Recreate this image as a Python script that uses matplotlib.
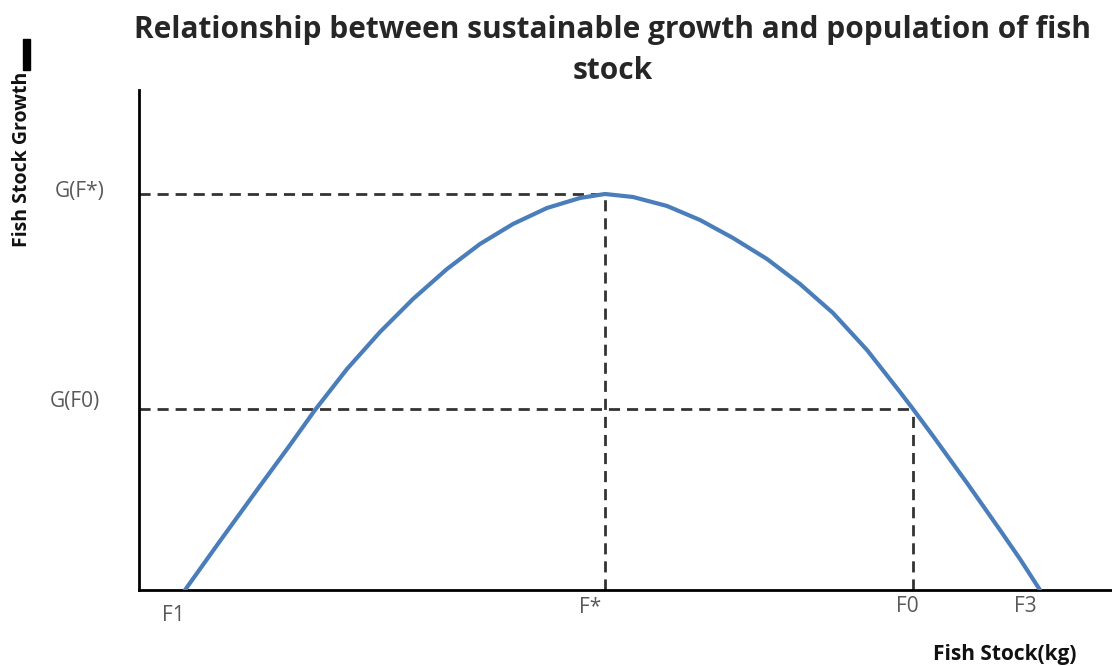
import matplotlib.pyplot as plt
from matplotlib.patches import Rectangle

# values (arbitrary units)
stock = [46, 81, 118, 151, 176, 208, 241, 274, 308, 341, 374, 408, 441, 466,
         494, 528, 561, 594, 628, 661, 694, 728, 761, 774, 794, 828, 861, 881, 901]
growth = [0, 49, 100, 145, 180, 221, 258, 291, 321, 346, 366, 382, 392, 396,
          393, 384, 370, 352, 331, 306, 277, 240, 198, 181, 154, 107, 60, 31, 0]

f_star = 466
f_zero = 774
g_star = 396
g_zero = 181

x_labels = ['F1', 'F*', 'F0', 'F3']
x_label_pos = [34, 451, 768, 886]
x_label_y = [-25, -17, -16, -16]
y_labels = ['G(F*)', 'G(F0)']
y_label_pos = [398, 188]
y_label_x = [-59, -64]

plt.rcParams['font.family'] = ['Open Sans', 'DejaVu Sans']

fig = plt.figure(figsize=(11.12, 6.66), dpi=100)
ax = fig.add_axes([0.125, 0.1141, 0.875, 0.7508])
ax.set_xlim(0, 973)
ax.set_ylim(0, 500)

ax.plot(stock, growth, color='#4a7ebb', lw=3, solid_capstyle='round',
        solid_joinstyle='round', zorder=3)

dash = dict(color='#333333', lw=2, linestyle=(0, (4, 2.5)), zorder=2)
ax.plot([0, f_star], [g_star, g_star], **dash)
ax.plot([f_star, f_star], [0, g_star], **dash)
ax.plot([0, f_zero], [g_zero, g_zero], **dash)
ax.plot([f_zero, f_zero], [0, g_zero], **dash)

for s in ['top', 'right']:
    ax.spines[s].set_visible(False)
ax.spines['left'].set_linewidth(2)
ax.spines['bottom'].set_linewidth(2)
ax.set_xticks([])
ax.set_yticks([])

for lab, xp, yp in zip(x_labels, x_label_pos, x_label_y):
    ax.text(xp, yp, lab, ha='center', va='center', fontsize=15, color='#595959')
for lab, xp, yp in zip(y_labels, y_label_x, y_label_pos):
    ax.text(xp, yp, lab, ha='center', va='center', fontsize=15, color='#595959')

fig.text(0.551, 0.955, 'Relationship between sustainable growth and population of fish',
         ha='center', va='center', fontsize=21.5, fontweight='bold', color='#262626')
fig.text(0.551, 0.893, 'stock', ha='center', va='center', fontsize=21.5,
         fontweight='bold', color='#262626')
fig.text(0.020, 0.76, 'Fish Stock Growth', rotation=90, ha='center', va='center',
         fontsize=14, fontweight='bold', color='#111111')
fig.text(0.904, 0.017, 'Fish Stock(kg)', ha='center', va='center', fontsize=15,
         fontweight='bold', color='#111111')

fig.patches.append(Rectangle((23 / 1112, 1 - 70 / 666), 7 / 1112, 31 / 666,
                             transform=fig.transFigure, color='black'))

fig.savefig('out.png', dpi=100)
